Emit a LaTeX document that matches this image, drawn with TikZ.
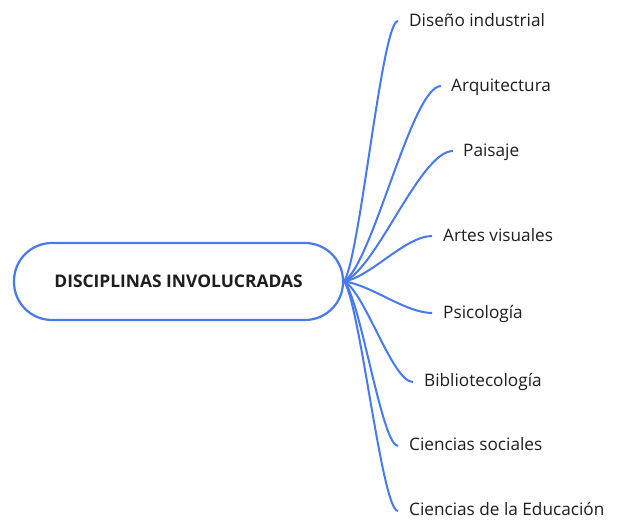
\documentclass[tikz,border=0pt]{standalone}
\usepackage{fontspec}
\setmainfont{Open Sans}
\usetikzlibrary{calc}
\definecolor{branch}{RGB}{72,122,238}
\definecolor{txt}{RGB}{30,30,30}
\begin{document}
\begin{tikzpicture}[x=1pt,y=-1pt,
  centerbox/.style={draw=branch,line width=2.2pt,rounded corners=38pt,minimum width=329pt,minimum height=77pt,inner sep=0pt,font=\bfseries\fontsize{17.4}{20}\selectfont,text=txt},
  leaf/.style={anchor=base west,inner sep=0pt,font=\fontsize{17.2}{20}\selectfont,text=txt},
  conn/.style={draw=branch,line width=2pt}]
\useasboundingbox[fill=white] (0,0) rectangle (621,521);
\node[centerbox] (c) at (178.5,281.5) {DISCIPLINAS INVOLUCRADAS};
\coordinate (hub) at (c.east);
\coordinate (e1) at (398,21);
\coordinate (e2) at (441,86);
\coordinate (e3) at (453,151);
\coordinate (e4) at (432,236);
\coordinate (e5) at (432,313);
\coordinate (e6) at (413,382);
\coordinate (e7) at (398,446);
\coordinate (e8) at (398,511);
\node[leaf] (l1) at (409,26.5) {Diseño industrial};
\node[leaf] (l2) at (451,91.5) {Arquitectura};
\node[leaf] (l3) at (463,156.5) {Paisaje};
\node[leaf] (l4) at (443,241.5) {Artes visuales};
\node[leaf] (l5) at (443,318) {Psicología};
\node[leaf] (l6) at (424,386.5) {Bibliotecología};
\node[leaf] (l7) at (409,450.5) {Ciencias sociales};
\node[leaf] (l8) at (409,515.5) {Ciencias de la Educación};
\foreach \e in {e1,e2,e3,e4,e5,e6,e7,e8}{
  \draw[conn] let \p1=(hub), \p2=(\e) in
    (hub) .. controls ({\x1+0.3*(\x2-\x1)},{\y1+0.1*(\y2-\y1)}) and ({\x2-0.3*(\x2-\x1)},\y2) .. (\e);
}
\end{tikzpicture}
\end{document}
